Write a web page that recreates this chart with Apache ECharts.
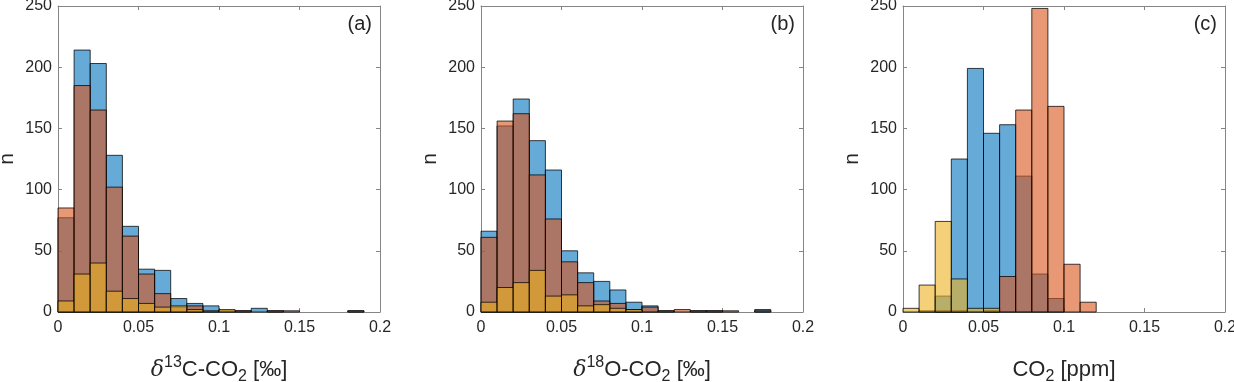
<!DOCTYPE html>
<html>
<head>
<meta charset="utf-8">
<script src="https://cdn.jsdelivr.net/npm/echarts@6/dist/echarts.min.js"></script>
<style>
html,body{margin:0;padding:0;background:#fff;}
#chart{width:1234px;height:382px;}
</style>
</head>
<body>
<div id="chart"></div>
<script>
// ---- data (histograms, bin width 0.01 from 0 to 0.2) ----
const binStart = 0;
const binWidth = 0.01;
const xTicks = [0, 0.05, 0.1, 0.15, 0.2];
const yTicks = [0, 50, 100, 150, 200, 250];
const panelLabels = ['(a)', '(b)', '(c)'];

// panel (a) δ13C-CO2
const a_blue   = [77, 214, 203, 128, 70, 35, 34, 11, 7, 5, 0, 1, 3, 1, 0, 0, 0, 0, 1, 0];
const a_orange = [85, 185, 165, 102, 62, 31, 15, 4, 5, 1, 1, 1, 0, 1, 1, 0, 0, 0, 1, 0];
const a_yellow = [9, 31, 40, 17, 11, 7, 4, 5, 2, 0, 2, 0, 0, 0, 0, 0, 0, 0, 0, 0];

// panel (b) δ18O-CO2
const b_blue   = [66, 152, 174, 140, 116, 50, 32, 25, 18, 8, 5, 1, 0, 1, 1, 0, 0, 2, 0, 0];
const b_orange = [61, 156, 162, 112, 76, 41, 24, 9, 7, 2, 4, 1, 2, 1, 1, 1, 0, 1, 0, 0];
const b_yellow = [8, 20, 24, 34, 13, 14, 5, 6, 3, 2, 0, 0, 0, 0, 0, 0, 0, 0, 0, 0];

// panel (c) CO2
const c_blue   = [0, 0, 13, 125, 199, 146, 153, 111, 31, 11, 0, 0, 0, 0, 0, 0, 0, 0, 0, 0];
const c_orange = [0, 1, 1, 1, 0, 1, 29, 165, 248, 168, 39, 8, 0, 0, 0, 0, 0, 0, 0, 0];
const c_yellow = [3, 22, 74, 27, 3, 3, 0, 0, 0, 0, 0, 0, 0, 0, 0, 0, 0, 0, 0, 0];

const panels = [
  [a_blue, a_orange, a_yellow],
  [b_blue, b_orange, b_yellow],
  [c_blue, c_orange, c_yellow]
];

// ---- styling ----
const fills = ['rgba(0,114,189,0.6)', 'rgba(217,83,25,0.6)', 'rgba(237,177,32,0.6)'];
const FONT = '"Liberation Sans", Arial, sans-serif';
const TXT = '#262626';
const AX = '#858585';
const gridLefts = [58, 481, 903];
const gridWidth = 322;

function toBins(counts) {
  const out = [];
  counts.forEach((c, i) => {
    if (c > 0) {
      const x0 = +(binStart + i * binWidth).toFixed(4);
      const x1 = +(binStart + (i + 1) * binWidth).toFixed(4);
      out.push([x0, x1, c]);
    }
  });
  return out;
}

const xNames = [
  '{d|δ}{sup|13}{m|C-CO}{sub|2}{m| [‰]}',
  '{d|δ}{sup|18}{m|O-CO}{sub|2}{m| [‰]}',
  '{m|CO}{sub|2}{m| [ppm]}'
];
const rich = {
  m: {fontSize: 22, fontFamily: FONT, color: TXT, lineHeight: 30, verticalAlign: 'middle'},
  d: {fontSize: 22, fontFamily: 'DejaVu Serif, serif', fontStyle: 'italic', color: TXT, lineHeight: 30},
  sup: {fontSize: 16, fontFamily: FONT, color: TXT, verticalAlign: 'top', lineHeight: 16, padding: [0, 0, 12, 0]},
  sub: {fontSize: 16, fontFamily: FONT, color: TXT, verticalAlign: 'bottom', lineHeight: 16, padding: [14, 0, 0, 0]}
};

const grid = [], xAxis = [], yAxis = [], series = [], title = [];
panels.forEach((p, gi) => {
  grid.push({left: gridLefts[gi], top: 6, width: gridWidth, height: 306, containLabel: false, outerBoundsMode: 'none'});
  const common = {
    min: 0,
    axisLine: {show: true, onZero: false, lineStyle: {color: AX, width: 1}},
    axisTick: {show: true, inside: true, length: 4, lineStyle: {color: AX}},
    splitLine: {show: false}
  };
  xAxis.push(Object.assign({}, common, {
    type: 'value', gridIndex: gi, position: 'bottom', max: 0.2, interval: 0.05,
    axisLabel: {show: true, margin: 8, fontSize: 16, fontFamily: FONT, color: TXT,
      formatter: v => xTicks.indexOf(+v.toFixed(4)) >= 0 ? String(+v.toFixed(4)) : ''},
    name: xNames[gi], nameLocation: 'middle', nameGap: 43,
    nameTextStyle: {rich: rich}
  }));
  xAxis.push(Object.assign({}, common, {
    type: 'value', gridIndex: gi, position: 'top', max: 0.2, interval: 0.05,
    axisLabel: {show: false}
  }));
  yAxis.push(Object.assign({}, common, {
    type: 'value', gridIndex: gi, position: 'left', max: 250, interval: 50,
    axisLabel: {show: true, margin: 6, fontSize: 16, fontFamily: FONT, color: TXT},
    name: 'n', nameLocation: 'middle', nameGap: 40, nameRotate: 90,
    nameTextStyle: {fontSize: 21, fontFamily: FONT, color: TXT}
  }));
  yAxis.push(Object.assign({}, common, {
    type: 'value', gridIndex: gi, position: 'right', max: 250, interval: 50,
    axisLabel: {show: false}
  }));
  p.forEach((counts, si) => {
    series.push({
      type: 'custom',
      xAxisIndex: gi * 2,
      yAxisIndex: gi * 2,
      z: 2 + si,
      data: toBins(counts),
      encode: {x: [0, 1], y: 2},
      renderItem: function (params, api) {
        const p0 = api.coord([api.value(0), 0]);
        const p1 = api.coord([api.value(1), api.value(2)]);
        return {
          type: 'rect',
          shape: {x: p0[0], y: p1[1], width: p1[0] - p0[0], height: p0[1] - p1[1]},
          style: {fill: fills[si], stroke: 'rgba(0,0,0,0.75)', lineWidth: 1}
        };
      }
    });
  });
  title.push({
    text: panelLabels[gi],
    right: 1234 - (gridLefts[gi] + gridWidth) + 8,
    top: 14,
    padding: 0,
    textStyle: {fontSize: 20, fontWeight: 'normal', fontFamily: FONT, color: TXT}
  });
});

const chart = echarts.init(document.getElementById('chart'), null, {renderer: 'canvas'});
chart.setOption({
  animation: false,
  backgroundColor: '#ffffff',
  title: title,
  grid: grid,
  xAxis: xAxis,
  yAxis: yAxis,
  series: series
});
</script>
</body>
</html>
